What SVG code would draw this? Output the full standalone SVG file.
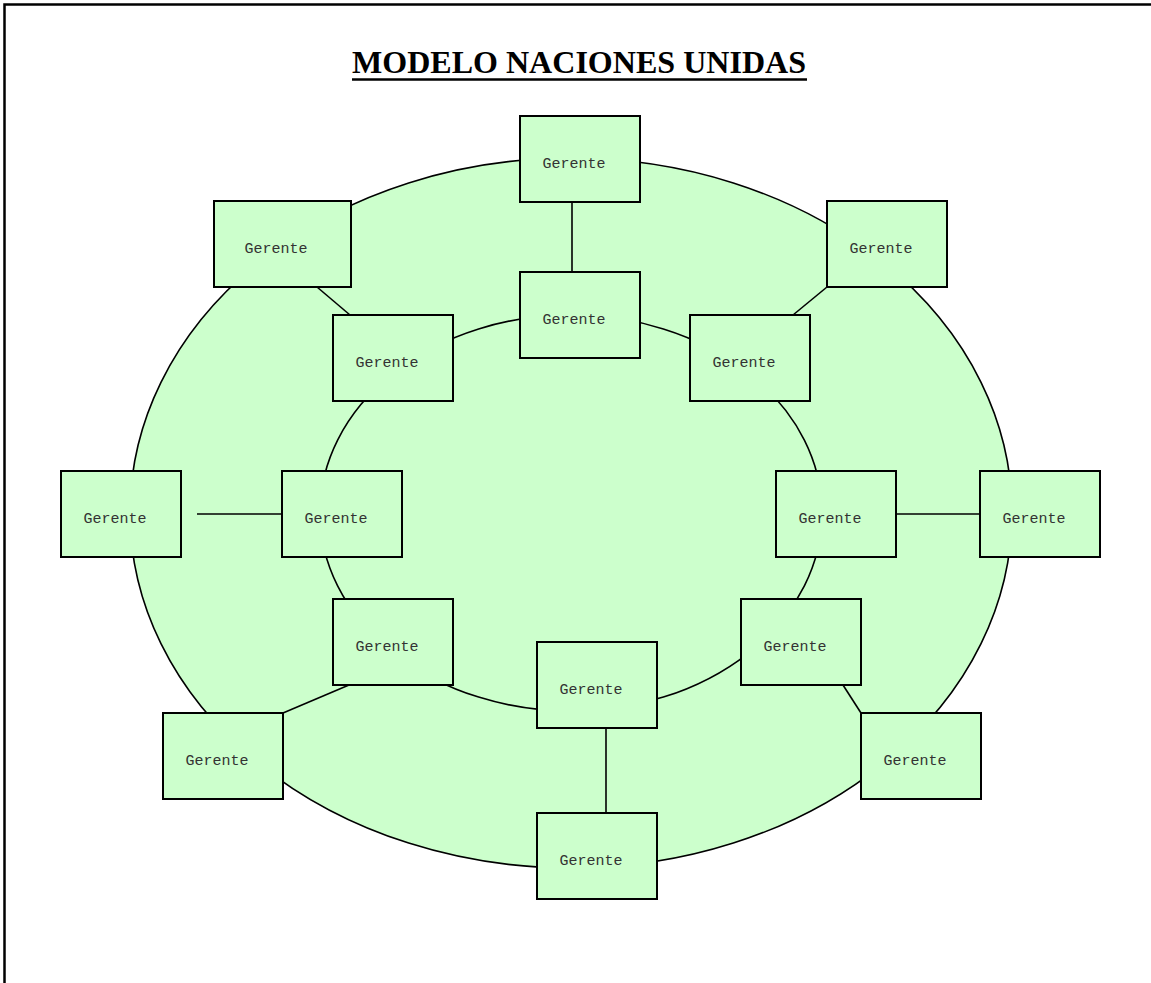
<svg xmlns="http://www.w3.org/2000/svg" width="1151" height="983" viewBox="0 0 1151 983">
<style>
.box{fill:#ccffcc;stroke:#000;stroke-width:2}
.lbl{font-family:"Liberation Mono","Courier New",monospace;font-size:15px;fill:#333;text-anchor:middle}
.ell{fill:#ccffcc;stroke:#000;stroke-width:1.6}
.ln{stroke:#000;stroke-width:1.6;fill:none}
</style>
<rect x="0" y="0" width="1151" height="983" fill="#fff"/>
<path d="M4.5 990 V4.5 H1160" fill="none" stroke="#000" stroke-width="2.5"/>
<g id="title">
<text x="579" y="73" font-family="'Liberation Serif','Times New Roman',serif" font-weight="bold" font-size="31" text-anchor="middle" textLength="454" lengthAdjust="spacingAndGlyphs">MODELO NACIONES UNIDAS</text>
<line x1="352" y1="79.5" x2="807" y2="79.5" stroke="#000" stroke-width="2.5"/>
</g>
<g id="ellipses">
<ellipse class="ell" cx="571" cy="513" rx="441" ry="355"/>
<ellipse class="ell" cx="571" cy="513" rx="251" ry="198"/>
</g>
<g id="connectors">
<line class="ln" x1="572" y1="202" x2="572" y2="272"/>
<line class="ln" x1="317" y1="287" x2="350" y2="315"/>
<line class="ln" x1="827" y1="287" x2="793" y2="315"/>
<line class="ln" x1="197" y1="514" x2="282" y2="514"/>
<line class="ln" x1="896" y1="514" x2="980" y2="514"/>
<line class="ln" x1="283" y1="713" x2="349" y2="685"/>
<line class="ln" x1="843" y1="685" x2="861" y2="713"/>
<line class="ln" x1="606" y1="728" x2="606" y2="813"/>
</g>
<g id="n1"><rect class="box" x="520" y="116" width="120" height="86"/><text class="lbl" x="574" y="168">Gerente</text></g>
<g id="n2"><rect class="box" x="520" y="272" width="120" height="86"/><text class="lbl" x="574" y="324">Gerente</text></g>
<g id="n3"><rect class="box" x="214" y="201" width="137" height="86"/><text class="lbl" x="276" y="253">Gerente</text></g>
<g id="n4"><rect class="box" x="333" y="315" width="120" height="86"/><text class="lbl" x="387" y="367">Gerente</text></g>
<g id="n5"><rect class="box" x="827" y="201" width="120" height="86"/><text class="lbl" x="881" y="253">Gerente</text></g>
<g id="n6"><rect class="box" x="690" y="315" width="120" height="86"/><text class="lbl" x="744" y="367">Gerente</text></g>
<g id="n7"><rect class="box" x="61" y="471" width="120" height="86"/><text class="lbl" x="115" y="523">Gerente</text></g>
<g id="n8"><rect class="box" x="282" y="471" width="120" height="86"/><text class="lbl" x="336" y="523">Gerente</text></g>
<g id="n9"><rect class="box" x="776" y="471" width="120" height="86"/><text class="lbl" x="830" y="523">Gerente</text></g>
<g id="n10"><rect class="box" x="980" y="471" width="120" height="86"/><text class="lbl" x="1034" y="523">Gerente</text></g>
<g id="n11"><rect class="box" x="333" y="599" width="120" height="86"/><text class="lbl" x="387" y="651">Gerente</text></g>
<g id="n12"><rect class="box" x="741" y="599" width="120" height="86"/><text class="lbl" x="795" y="651">Gerente</text></g>
<g id="n13"><rect class="box" x="163" y="713" width="120" height="86"/><text class="lbl" x="217" y="765">Gerente</text></g>
<g id="n14"><rect class="box" x="861" y="713" width="120" height="86"/><text class="lbl" x="915" y="765">Gerente</text></g>
<g id="n15"><rect class="box" x="537" y="642" width="120" height="86"/><text class="lbl" x="591" y="694">Gerente</text></g>
<g id="n16"><rect class="box" x="537" y="813" width="120" height="86"/><text class="lbl" x="591" y="865">Gerente</text></g>
</svg>
